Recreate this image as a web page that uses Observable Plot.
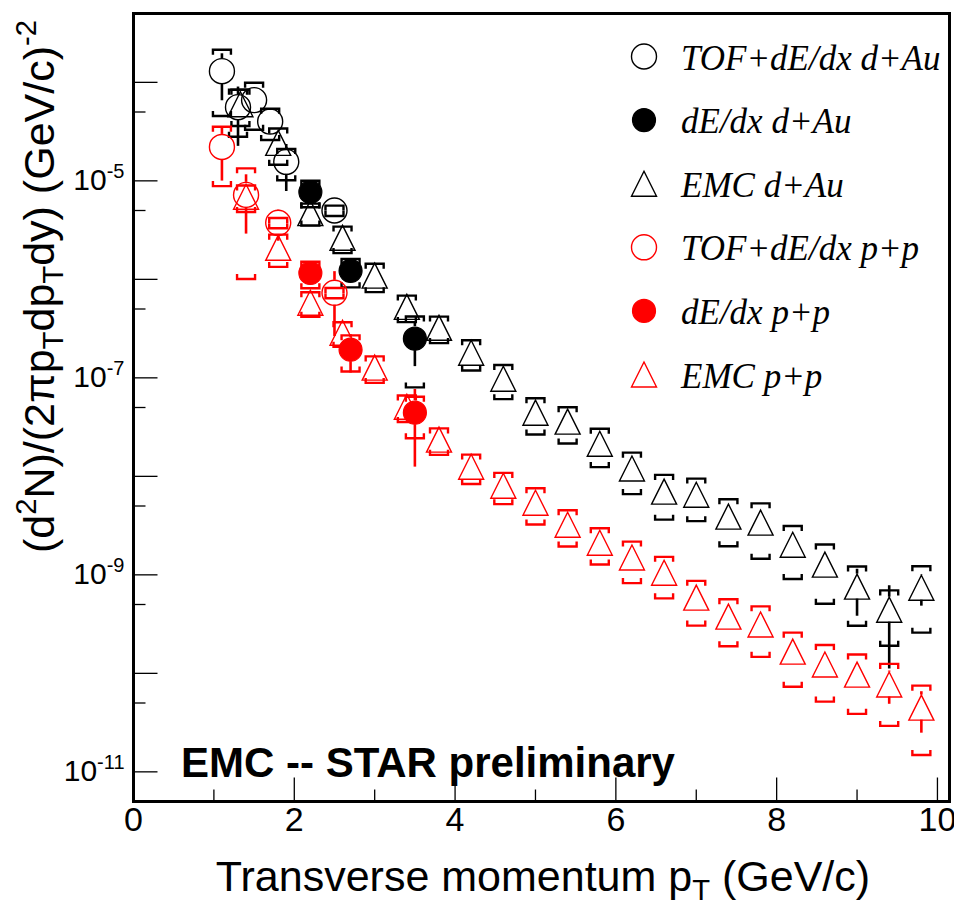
<!DOCTYPE html>
<html>
<head>
<meta charset="utf-8">
<script src="https://cdn.jsdelivr.net/npm/d3@7"></script>
<script src="https://cdn.jsdelivr.net/npm/@observablehq/plot@0.6"></script>
<style>
  html, body { margin: 0; padding: 0; background: #fff; }
  #chart { width: 954px; height: 908px; }
</style>
</head>
<body>
<div id="chart"></div>
<script>
// ---------------- data ----------------
// relative errors: stat / sys are fractions of the value (drawn as y*(1±err))
const tofDAuPt   = [1.1, 1.3, 1.5, 1.7, 1.9, 2.5];
const tofDAuY    = [1.3e-4, 5.6e-5, 6.6e-5, 4.0e-5, 1.56e-5, 5.0e-6];
const tofDAuStat = [0.5, 0.6, 0.15, 0.15, 0.5, 0.15];
const tofDAuSys  = [0.65, 0.5, 0.5, 0.35, 0.35, 0.12];

const dedxDAuPt   = [2.2, 2.7, 3.5];
const dedxDAuY    = [7.7e-6, 1.22e-6, 2.5e-7];
const dedxDAuStat = [0.1, 0.1, 0.48];
const dedxDAuSys  = [0.3, 0.32, 0.68];

const emcDAuPt   = [1.33, 1.8, 2.2, 2.6, 3.0, 3.4, 3.8, 4.2, 4.6, 5.0, 5.4, 5.8, 6.2, 6.6, 7.0, 7.4, 7.8, 8.2, 8.6, 9.0, 9.4, 9.8];
const emcDAuY    = [6.0e-5, 2.43e-5, 4.7e-6, 2.64e-6, 1.09e-6, 5.26e-7, 3.22e-7, 1.80e-7, 9.8e-8, 4.43e-8, 3.59e-8, 2.14e-8, 1.20e-8, 6.99e-9, 6.5e-9, 3.9e-9, 3.39e-9, 2.02e-9, 1.27e-9, 7.6e-10, 4.43e-10, 7.4e-10];
const emcDAuStat = [0.05, 0.05, 0.05, 0.05, 0.05, 0.05, 0.05, 0.05, 0.05, 0.05, 0.05, 0.05, 0.1, 0.25, 0.25, 0.12, 0.12, 0.15, 0.2, 0.5, 0.75, 0.35];
const emcDAuSys  = [0.4, 0.4, 0.25, 0.3, 0.32, 0.3, 0.3, 0.34, 0.38, 0.4, 0.4, 0.42, 0.45, 0.48, 0.46, 0.5, 0.57, 0.55, 0.6, 0.6, 0.57, 0.65];

const tofPPPt   = [1.1, 1.4, 1.8, 2.5];
const tofPPY    = [2.21e-5, 7.2e-6, 3.75e-6, 7.3e-7];
const tofPPStat = [0.55, 0.6, 0.35, 0.64];
const tofPPSys  = [0.6, 0.86, 0.12, 0.12];

const dedxPPPt   = [2.2, 2.7, 3.5];
const dedxPPY    = [1.16e-6, 1.93e-7, 4.43e-8];
const dedxPPStat = [0.1, 0.42, 0.72];
const dedxPPSys  = [0.3, 0.4, 0.45];

const emcPPPt   = [1.4, 1.8, 2.2, 2.6, 3.0, 3.4, 3.8, 4.2, 4.6, 5.0, 5.4, 5.8, 6.2, 6.6, 7.0, 7.4, 7.8, 8.2, 8.6, 9.0, 9.4, 9.8];
const emcPPY    = [6.9e-6, 2.09e-6, 5.78e-7, 2.87e-7, 1.27e-7, 5.09e-8, 2.36e-8, 1.25e-8, 8.03e-9, 5.4e-9, 3.23e-9, 2.12e-9, 1.50e-9, 1.05e-9, 5.87e-10, 3.77e-10, 3.13e-10, 1.66e-10, 1.23e-10, 9.7e-11, 7.7e-11, 4.49e-11];
const emcPPStat = [0.05, 0.05, 0.05, 0.05, 0.05, 0.05, 0.05, 0.05, 0.05, 0.05, 0.05, 0.05, 0.05, 0.05, 0.08, 0.1, 0.1, 0.12, 0.2, 0.25, 0.37, 0.45];
const emcPPSys  = [0.3, 0.36, 0.28, 0.28, 0.3, 0.3, 0.3, 0.33, 0.35, 0.4, 0.4, 0.4, 0.45, 0.45, 0.48, 0.5, 0.53, 0.56, 0.58, 0.6, 0.62, 0.67];

const legendNames = ["TOF+dE/dx d+Au", "dE/dx d+Au", "EMC d+Au", "TOF+dE/dx p+p", "dE/dx p+p", "EMC p+p"];
const seriesColors = ["#000000", "#000000", "#000000", "#ff0000", "#ff0000", "#ff0000"];
const seriesKinds = ["open", "filled", "triangle", "open", "filled", "triangle"];

const xTickLabels = [0, 2, 4, 6, 8, 10];
const xMinorTicks = [1, 3, 5, 7, 9];
const yTickLabels = [1e-5, 1e-7, 1e-9, 1e-11];
const yDecadeTicks = [1e-4, 1e-5, 1e-6, 1e-7, 1e-8, 1e-9, 1e-10, 1e-11];
const yHalfTicks = [5e-4, 5e-5, 5e-6, 5e-7, 5e-8, 5e-9, 5e-10, 5e-11];

const xTitle = "Transverse momentum p_T (GeV/c)";
const yTitle = "(d^2N)/(2πp_Tdp_Tdy) (GeV/c)^-2";
const stamp = "EMC -- STAR preliminary";

// ---------------- layout ----------------
const W = 954, H = 908, mL = 133, mR = 5, mT = 13, mB = 107;
const xDomain = [0, 10.15];
const yDomain = [5e-12, 5e-4];

function build(pt, y, stat, sys) {
  return pt.map((x, i) => ({
    x, y: y[i],
    statLo: y[i] * (1 - stat[i]), statHi: y[i] * (1 + stat[i]),
    sysLo: y[i] * (1 - sys[i]), sysHi: y[i] * (1 + sys[i])
  }));
}
const seriesRows = [
  build(tofDAuPt, tofDAuY, tofDAuStat, tofDAuSys),
  build(dedxDAuPt, dedxDAuY, dedxDAuStat, dedxDAuSys),
  build(emcDAuPt, emcDAuY, emcDAuStat, emcDAuSys),
  build(tofPPPt, tofPPY, tofPPStat, tofPPSys),
  build(dedxPPPt, dedxPPY, dedxPPStat, dedxPPSys),
  build(emcPPPt, emcPPY, emcPPStat, emcPPSys)
];

// symbols (shape only; positions come from the scales)
const MH = 12.5; // marker half size
const triSym = {draw(c) { c.moveTo(0, -MH); c.lineTo(MH, MH); c.lineTo(-MH, MH); c.closePath(); }};
const bracketTop = {draw(c) { c.moveTo(-9, 5); c.lineTo(-9, 0); c.lineTo(9, 0); c.lineTo(9, 5); }};
const bracketBot = {draw(c) { c.moveTo(-9, -5); c.lineTo(-9, 0); c.lineTo(9, 0); c.lineTo(9, -5); }};
const tickRight = (L) => ({draw(c) { c.moveTo(0, 0); c.lineTo(L, 0); }});
const tickUp = (L) => ({draw(c) { c.moveTo(0, 0); c.lineTo(0, -L); }});

const yS = Plot.scale({y: {type: "log", domain: yDomain, range: [H - mB, mT]}});

const marks = [];
seriesRows.forEach((rows, k) => {
  const color = seriesColors[k];
  const kind = seriesKinds[k];
  const half = kind === "filled" ? 12 : MH;
  // systematic brackets
  marks.push(Plot.dot(rows, {x: "x", y: "sysHi", symbol: bracketTop, stroke: color, strokeWidth: 2.4, fill: "none"}));
  marks.push(Plot.dot(rows, {x: "x", y: "sysLo", symbol: bracketBot, stroke: color, strokeWidth: 2.4, fill: "none"}));
  // statistical bars, outside the marker
  const up = rows.filter(d => yS.apply(d.y) - yS.apply(d.statHi) > half);
  const dn = rows.filter(d => d.statLo > 0 && yS.apply(d.statLo) - yS.apply(d.y) > half);
  marks.push(Plot.ruleX(up, {x: "x", y1: "statHi", y2: "y", insetBottom: half, stroke: color, strokeWidth: 2.6}));
  marks.push(Plot.ruleX(dn, {x: "x", y1: "y", y2: "statLo", insetTop: half, stroke: color, strokeWidth: 2.6}));
  // markers
  if (kind === "open") marks.push(Plot.dot(rows, {x: "x", y: "y", r: MH, symbol: "circle", stroke: color, strokeWidth: 1.4, fill: "none"}));
  if (kind === "filled") marks.push(Plot.dot(rows, {x: "x", y: "y", r: 11.5, symbol: "circle", stroke: color, strokeWidth: 1.2, fill: color}));
  if (kind === "triangle") marks.push(Plot.dot(rows, {x: "x", y: "y", symbol: triSym, stroke: color, strokeWidth: 1.4, fill: "none"}));
});

const plot = Plot.plot({
  width: W, height: H,
  marginLeft: mL, marginRight: mR, marginTop: mT, marginBottom: mB,
  style: {fontFamily: "'Liberation Sans', Arial, sans-serif", fontSize: "30px", background: "#fff", overflow: "visible"},
  x: {domain: xDomain, axis: null},
  y: {type: "log", domain: yDomain, axis: null},
  marks: [
    // axis ticks, inside the frame
    Plot.dot(yDecadeTicks, {y: d => d, frameAnchor: "left", symbol: tickRight(24), stroke: "#000", strokeWidth: 1.3, fill: "none"}),
    Plot.dot(yHalfTicks, {y: d => d, frameAnchor: "left", symbol: tickRight(12), stroke: "#000", strokeWidth: 1.3, fill: "none"}),
    Plot.dot(xTickLabels, {x: d => d, frameAnchor: "bottom", symbol: tickUp(24), stroke: "#000", strokeWidth: 1.3, fill: "none"}),
    Plot.dot(xMinorTicks, {x: d => d, frameAnchor: "bottom", symbol: tickUp(12), stroke: "#000", strokeWidth: 1.3, fill: "none"}),
    // tick labels
    Plot.text(yTickLabels, {y: d => d, frameAnchor: "left", textAnchor: "end", dx: -9, fontSize: 30, text: d => "10^" + Math.round(Math.log10(d))}),
    Plot.text(xTickLabels, {x: d => d, frameAnchor: "bottom", dy: 29, fontSize: 34, text: d => String(d)}),
    ...marks,
    Plot.frame({stroke: "#000", strokeWidth: 3})
  ]
});
document.getElementById("chart").appendChild(plot);

const svg = d3.select(plot);

// superscript exponents on y tick labels
svg.selectAll("text").each(function() {
  const t = this.textContent;
  if (t.startsWith("10^")) {
    const sel = d3.select(this);
    sel.text("");
    sel.append("tspan").text("10");
    sel.append("tspan").attr("font-size", 20).attr("dy", -12).text(t.slice(3));
  }
});

// rich text helper: ^x superscript, _x subscript (one token)
function rich(sel, str, size) {
  const parts = str.split(/([\^_](?:-?\d+|[A-Z]))/);
  let shift = 0;
  parts.forEach(p => {
    if (!p) return;
    if (p[0] === "^" || p[0] === "_") {
      const s = p[0] === "^" ? -0.42 * size : 0.22 * size;
      sel.append("tspan").attr("font-size", size * 0.68).attr("dy", s - shift).text(p.slice(1));
      shift = s;
    } else {
      sel.append("tspan").attr("dy", -shift).text(p);
      shift = 0;
    }
  });
}

const SANS = "'Liberation Sans', Arial, sans-serif";

// x title
const xt = svg.append("text").attr("x", 543).attr("y", 891)
  .attr("text-anchor", "middle").attr("font-size", 43)
  .attr("font-family", SANS).attr("fill", "#000");
rich(xt, xTitle, 43);

// y title (rotated, right-aligned at the top)
const yt = svg.append("text").attr("transform", "translate(54,20) rotate(-90)")
  .attr("text-anchor", "end").attr("font-size", 43)
  .attr("font-family", SANS).attr("fill", "#000");
rich(yt, yTitle, 43);

// stamp
svg.append("text").attr("x", 181).attr("y", 777)
  .attr("text-anchor", "start")
  .attr("font-size", 42).attr("font-weight", "bold")
  .attr("font-family", SANS).attr("fill", "#000")
  .text(stamp);

// legend
const lg = svg.append("g");
legendNames.forEach((name, i) => {
  const cy = 56.5 + i * 63.6;
  const color = seriesColors[i], kind = seriesKinds[i];
  const p = lg.append("path").attr("transform", `translate(644,${cy})`);
  if (kind === "triangle") p.attr("d", d3.symbol(triSym)()).attr("fill", "none").attr("stroke", color).attr("stroke-width", 1.4);
  else if (kind === "open") p.attr("d", d3.symbol(d3.symbolCircle, Math.PI * MH * MH)()).attr("fill", "none").attr("stroke", color).attr("stroke-width", 1.4);
  else p.attr("d", d3.symbol(d3.symbolCircle, Math.PI * 11.5 * 11.5)()).attr("fill", color).attr("stroke", color).attr("stroke-width", 1.2);
  lg.append("text").attr("x", 681).attr("y", cy + 13)
    .attr("text-anchor", "start")
    .attr("font-family", "'Liberation Serif', 'Times New Roman', serif")
    .attr("font-style", "italic").attr("font-size", 35).attr("fill", "#000")
    .text(name);
});
</script>
</body>
</html>
